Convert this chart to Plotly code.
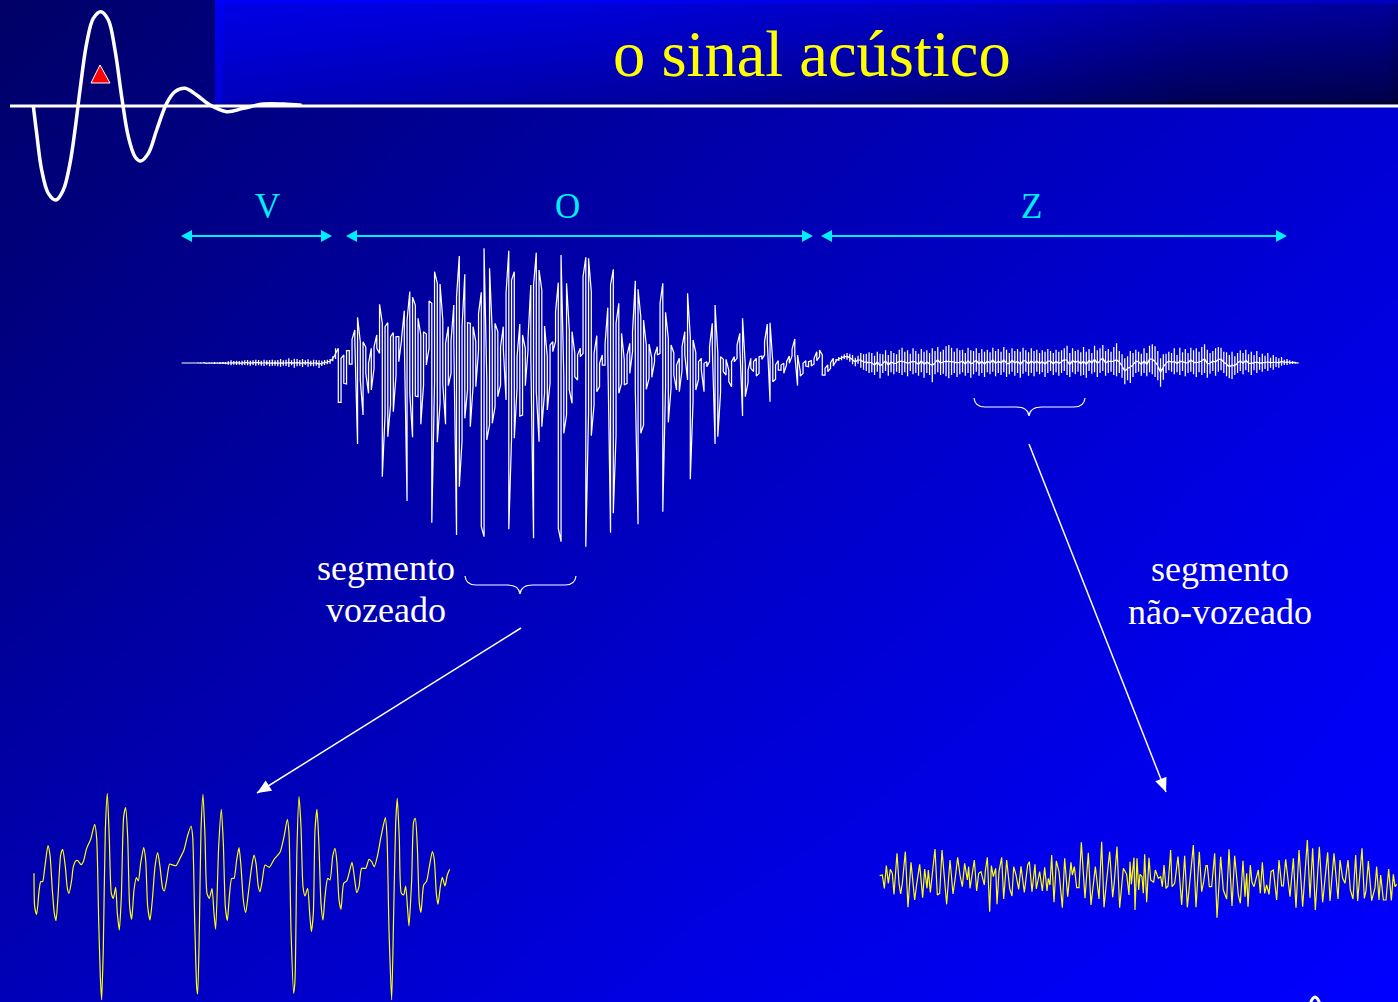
import math
import plotly.graph_objects as go

W, H = 1398, 1002

title_text = "o sinal acústico"
phoneme_labels = ["V", "O", "Z"]
voiced_lines = ["segmento", "vozeado"]
unvoiced_lines = ["segmento", "não-vozeado"]

# Gradient stops for the slide background and title band (blue level 0..1)
bg_x = [-350, 350, 1050, 1750]
bg_y = [-250, 250, 750, 1250]
bg_z = [[.40, .62, .80],
        [.55, .76, .93],
        [.72, .90, 1.0]]
band_x = [215, 225, 1000, 1388, 1398]
band_y = [0, 4, 100, 104]
band_z = [[1.0, .95, .80, .72],
          [.90, .75, .50, .40],
          [.78, .52, .18, .12]]

# Logo pulse
logo_t = [100,110,125,145,168,190,210,225,240,260,280,303,325,345,365,385,405,422,445,470,500,525,555,590,630,680,730,790,850,905]
logo_level = [318,400,510,580,600,570,490,390,270,130,55,35,60,150,290,410,470,483,460,390,310,275,265,285,315,335,325,312,312,316]

# Speech signal: upper and lower reach of each sample column
pre_hi = [0,0,0,0,1,1,2,2,2,1,2,2,3,2,3,3,3,5,8,6,7,6,7,8,9,7,8,10,9,7,10,8,9,10,8,9,12,8,10,14,8,13,12,9,12,8,11,7,10,9,8,7,9,10,12,20,44]
pre_lo = [0,0,0,0,-1,-1,-1,-2,-1,-2,-2,-2,-3,-2,-3,-3,-4,-5,-7,-5,-6,-5,-7,-6,-7,-8,-6,-8,-7,-8,-9,-7,-10,-9,-8,-10,-11,-8,-9,-12,-7,-14,-10,-8,-12,-6,-11,-9,-10,-8,-15,-9,-6,-4,-2,5,12]
vo_hi = [44,14,24,37,37,71,99,137,64,64,47,-1,44,49,84,176,119,109,121,79,91,79,79,74,157,129,214,197,174,134,84,94,87,186,179,274,239,237,129,59,109,67,174,199,321,109,266,121,119,109,64,149,212,344,-51,284,89,119,94,49,109,209,337,249,274,19,117,84,44,74,234,234,331,279,219,111,19,54,64,154,241,324,-41,239,99,94,29,24,44,259,317,
         314,214,29,82,-1,24,57,166,234,281,119,179,89,9,24,59,94,247,221,139,129,54,57,14,24,49,179,239,152,74,54,31,-6,14,49,94,209,79,69,31,4,14,-1,4,49,119,174,29,19,11,11,-21,4,19,54,89,134,-6,-21,14,4,14,19,21,64,117,121,2,-6,7,-6,-1,4,21,41,72,24,-26,-1,7,4,7,14,34,39,24,-16,-6,1,14]
vo_lo = [-118,-118,-61,-63,-3,-3,69,-243,-51,-156,-31,-91,-81,-16,44,29,-341,-156,-221,-126,-146,-36,4,69,69,-414,-91,-223,-99,-101,-184,-66,-6,44,-479,-56,-238,-121,-63,-184,-68,-31,64,-516,-371,-233,-166,-81,-191,-71,-71,39,-491,-521,-231,-186,-181,-131,-101,-66,44,-111,-499,-226,-226,-76,-159,-156,-68,39,19,-526,-86,-236,-191,-91,-141,-61,34,64,-496,-536,-211,-156,-81,-121,-41,-51,19,29,-551,
         -151,-218,-126,-86,-71,-6,-6,29,-509,-451,-216,-91,-61,-66,-61,-31,34,-81,-484,-211,-186,-79,-46,-43,4,24,29,-446,-71,-178,-76,-36,-81,-86,-21,24,-51,-349,-116,-81,-49,-21,-86,-11,4,49,-243,-221,-89,-26,-36,-56,-71,4,14,54,-159,-101,-58,-16,-26,-39,-31,11,24,64,-116,-56,-49,-21,-21,-31,-6,-1,21,24,-68,-39,-31,-9,-11,-9,-3,7,19,-36,-36,-26,-16,-9]
uv_hi = [12,18,22,26,30,28,24,16,22,30, 26,28,32,30,22,34,28,26,38,24, 36,30,26,40,46,34,38,28,44,36,
         28,42,34,38,30,44,36,48,34,40, 50,54,46,34,44,38,40,30,46,38, 36,44,30,42,34,40,32,46,36,42,
         34,48,40,30,44,36,42,34,46,38, 32,44,36,40,30,38,34,42,36,30, 40,34,38,44,52,30,44,36,40,32,
         48,34,42,30,52,38,44,54,36,42, 34,48,59,36,26,14,20,36,30,40, 34,28,44,30,52,56,50,36,14,26,
         28,34,30,44,24,46,32,42,30,46, 38,44,34,48,56,40,30,36,44,48, 46,34,32,24,34,20,30,38,30,40,
         26,34,24,36,18,28,22,30,16,24, 18,14,18,10,12,8,6,4,2]
uv_lo = [2,6,8,12,10,4,-4,-10,-2,-14, -20,-24,-30,-28,-36,-26,-46,-30,-24,-38, -28,-34,-26,-30,-36,-28,-40,-24,-34,-30,
         -38,-28,-44,-30,-36,-58,-34,-28,-36,-32, -40,-46,-36,-30,-42,-34,-28,-38,-30,-44, -34,-26,-38,-30,-42,-28,-34,-26,-40,-30,
         -36,-28,-42,-34,-26,-38,-30,-44,-32,-26, -38,-30,-40,-26,-34,-28,-42,-30,-24,-36, -28,-38,-30,-24,-36,-42,-28,-34,-26,-38,
         -36,-44,-24,-32,-28,-42,-30,-24,-38,-30, -26,-36,-40,-30,-44,-64,-52,-60,-42,-30, -26,-38,-30,-40,-28,-34,-42,-52,-71,-50,
         -30,-22,-26,-34,-28,-36,-24,-40,-30,-26, -34,-42,-28,-36,-30,-44,-32,-24,-38,-26, -22,-30,-40,-46,-48,-36,-30,-24,-34,-22,
         -28,-36,-22,-30,-20,-26,-18,-24,-14,-20, -12,-14,-8,-6,-6,-4,-3,-2,-1]

# Voiced segment, enlarged
voiced_t_a = [42,44,50,57,62,68,74,84,90,97,103,108,114,122,128,136,142,147,155,160,168,174,183,190,200,212,224,230,236,241,245,250,256,262,268,274,280,287,292,298,304,311,317,323,329,335,342,349,355,362,371,377,383,390,397,405,413,420,428,433,440,449,458,468,480,492,502,513,518,524,530,533,538,543,549,555,561,568,576,582,587,596,604,610,616,622,628,635,642,650,657]
voiced_level_a = [280,380,403,335,305,305,265,197,225,330,400,422,350,225,208,260,325,340,300,260,242,242,254,245,205,178,133,175,420,590,660,500,150,40,180,340,355,322,400,450,350,110,83,170,380,418,330,293,303,250,203,240,380,420,360,260,218,260,325,333,300,252,255,257,235,210,170,138,170,420,620,642,450,150,43,170,340,355,326,400,448,200,88,190,380,422,350,295,295,240,203]
voiced_t_b = [18,25,32,40,50,57,63,70,75,82,90,103,118,135,147,157,162,168,176,180,186,192,198,204,210,218,224,229,235,240,246,252,258,264,270,278,285,293,300,306,312,318,326,335,342,351,358,365,372,380,392,402,410,418,428,438,451,456,462,470,476,482,487,493,499,506,512,518,522,530,536,541,547,553,558,566,575,583,592,598,604,609,616,622,630,637,644]
voiced_level_b = [260,360,398,340,260,225,250,320,335,300,255,262,237,217,170,118,160,450,640,600,200,50,140,320,348,325,400,455,400,150,88,200,370,420,350,295,300,230,205,250,360,388,310,303,280,247,290,338,320,265,265,238,245,260,225,170,113,170,450,660,400,130,55,180,340,345,318,390,438,300,125,115,200,370,397,315,303,260,215,240,340,373,320,292,318,285,268]

# Unvoiced segment, enlarged
unvoiced_t_a = [14,22,28,34,40,46,52,57,66,72,77,82,91,99,108,119,125,134,143,149,156,160,166,174,180,187,194,201,207,215,225,234,240,248,255,262,269,277,281,285,298,305,311,318,328,331,337,344,349,355,362,366,372,380,386,395,404,411,416,423,431,438,448,458,463,471,480,484,494,502,509,516,520,525,530,537,544,552,562,569,578,588,592,598,605,612,619,630,640,648,661,672,680,687,695,704,713,718,726,734,745,755,762]
unvoiced_level_a = [152,150,190,122,175,133,145,208,85,175,207,175,80,247,112,225,178,118,218,132,190,135,202,130,72,210,205,75,155,238,105,207,165,97,150,185,115,165,125,190,105,198,145,140,180,138,97,260,122,155,130,238,140,97,222,105,190,213,125,150,193,124,202,120,110,200,118,192,140,198,127,198,160,180,90,232,108,140,248,100,215,112,150,125,188,188,52,220,83,240,125,222,50,247,165,80,217,170,65,248,130,148,210]
unvoiced_t_b = [0,4,12,15,21,26,30,36,40,44,50,57,62,71,76,85,92,97,102,108,114,122,126,134,144,155,164,172,178,190,198,208,215,221,228,232,238,245,254,261,272,280,290,297,306,314,325,331,339,345,350,354,361,366,372,385,391,397,404,410,417,423,430,440,447,455,460,467,480,490,498,507,518,532,540,548,556,568,578,593,600,606,612,624,630,638,645,654,661,669,677,683,696,703,708,715,725,735,740,747,752,760,768,776,784,790,795,800]
unvoiced_level_b = [110,178,98,255,100,195,148,155,205,88,232,98,165,172,135,160,155,185,120,190,183,75,185,175,95,240,92,247,178,60,247,80,200,170,122,122,185,185,85,278,95,195,222,73,243,92,210,235,107,215,145,245,120,172,185,135,205,112,205,180,208,140,135,225,105,183,183,103,215,100,248,75,245,45,218,70,255,65,232,82,228,145,85,222,105,160,175,105,195,222,90,228,70,220,198,108,227,188,125,225,150,225,225,132,226,148,185,178]

voiced_t = voiced_t_a + [t + 645 for t in voiced_t_b]
voiced_level = voiced_level_a + voiced_level_b
unvoiced_t = unvoiced_t_a + [t + 765 for t in unvoiced_t_b]
unvoiced_level = unvoiced_level_a + unvoiced_level_b

speech_hi = pre_hi + vo_hi + uv_hi
speech_lo = pre_lo + vo_lo + uv_lo
voiced_start, voiced_end = len(pre_hi), len(pre_hi) + len(vo_hi)
speech_x, speech_y = [], []
for i, (hi, lo) in enumerate(zip(speech_hi, speech_lo)):
    if voiced_start <= i < voiced_end:
        # large pulses: the trace sweeps up one column and down the next
        speech_x += [i, i]
        speech_y += [lo, hi] if i % 2 == 0 else [hi, lo]
    else:
        # noise: short ticks strung along the middle of the signal
        mid = (hi + lo) / 2
        speech_x += [i, i, i, i]
        speech_y += [mid, hi, lo, mid]


def axes(n, x_per_px, x0_px, y_per_px, y0_px):
    """Full-slide overlay axes: value v sits at pixel x0_px + v / x_per_px."""
    return {
        f"xaxis{n}": dict(range=[-x0_px * x_per_px, (W - x0_px) * x_per_px], domain=[0, 1], visible=False, fixedrange=True),
        f"yaxis{n}": dict(range=[(H - y0_px) * y_per_px, -y0_px * y_per_px], domain=[0, 1], visible=False, fixedrange=True),
    }


fig = go.Figure()
blue = [[0, "#000000"], [1, "#0000ff"]]
fig.add_trace(go.Heatmap(x=bg_x, y=bg_y, z=bg_z, zsmooth="best", colorscale=blue, zmin=0, zmax=1, showscale=False, hoverinfo="skip"))
fig.add_trace(go.Heatmap(x=band_x, y=band_y, z=band_z, zsmooth="best", colorscale=blue, zmin=0, zmax=1, showscale=False, hoverinfo="skip"))
fig.add_trace(go.Scatter(x=logo_t, y=logo_level, mode="lines", xaxis="x2", yaxis="y2", hoverinfo="skip",
                         line=dict(color="white", width=3.5, shape="spline", smoothing=1.0)))
fig.add_trace(go.Scatter(x=speech_x, y=speech_y, mode="lines", xaxis="x3", yaxis="y3", hoverinfo="skip",
                         line=dict(color="white", width=1.25)))
fig.add_trace(go.Scatter(x=voiced_t, y=voiced_level, mode="lines", xaxis="x4", yaxis="y4", hoverinfo="skip",
                         line=dict(color="#ffff00", width=1.2, shape="spline", smoothing=0.6)))
fig.add_trace(go.Scatter(x=unvoiced_t, y=unvoiced_level, mode="lines", xaxis="x5", yaxis="y5", hoverinfo="skip",
                         line=dict(color="#ffff00", width=1.2)))

layout_axes = dict(
    xaxis=dict(range=[0, W], domain=[0, 1], visible=False, fixedrange=True),
    yaxis=dict(range=[H, 0], domain=[0, 1], visible=False, fixedrange=True),
)
layout_axes.update(axes(2, 3, 0, 3, 0))            # logo: zoom readings
layout_axes.update(axes(3, 1 / 2.75, 181.55, -3, 363))  # speech
layout_axes.update(axes(4, 3, 20, 3, 780))         # voiced
layout_axes.update(axes(5, 3, 875, 3, 825))        # unvoiced

serif = "Liberation Serif"
def label(x, y, text, size, color):
    return dict(x=x, y=y, xref="x", yref="y", text=text, showarrow=False, xanchor="center", yanchor="middle",
                align="center", font=dict(family=serif, size=size, color=color))

cyan = "#00eeff"
annotations = [
    label(812, 54, title_text, 64.5, "#ffff00"),
    label(267, 206, phoneme_labels[0], 35, cyan),
    label(567, 206, phoneme_labels[1], 35, cyan),
    label(1031, 206, phoneme_labels[2], 35, cyan),
    label(386, 568, voiced_lines[0], 36, "white"),
    label(386, 610, voiced_lines[1], 36, "white"),
    label(1220, 569, unvoiced_lines[0], 36, "white"),
    label(1220, 612, unvoiced_lines[1], 36, "white"),
]


def brace(x0, xm, x1, ytop, yflat, ytip):
    return (f"M{x0},{ytop} Q{x0+1},{yflat} {x0+11},{yflat} L{xm-13},{yflat} Q{xm-1},{yflat} {xm},{ytip} "
            f"Q{xm+1},{yflat} {xm+13},{yflat} L{x1-11},{yflat} Q{x1-1},{yflat} {x1},{ytop}")


def head(xt, yt, xf, yf, length, half, color):
    """Solid triangular arrow head with its tip at (xt, yt), pointing away from (xf, yf)."""
    d = math.hypot(xt - xf, yt - yf)
    ux, uy = (xt - xf) / d, (yt - yf) / d
    bx, by = xt - ux * length, yt - uy * length
    return dict(type="path", xref="x", yref="y", layer="above", fillcolor=color, line=dict(width=0),
                path=f"M{xt:.1f},{yt:.1f} L{bx - uy * half:.1f},{by + ux * half:.1f} L{bx + uy * half:.1f},{by - ux * half:.1f} Z")


def shaft(x0, y0, x1, y1, color, width):
    return dict(type="line", x0=x0, y0=y0, x1=x1, y1=y1, xref="x", yref="y", layer="above", line=dict(color=color, width=width))


shapes = [
    shaft(10, 106, W, 106, "white", 3),
    dict(type="path", path="M100,65 L91,83 L110,83 Z", xref="x", yref="y", fillcolor="#ff0000", line=dict(color="white", width=1), layer="above"),
    dict(type="path", path=brace(465, 520, 576, 576, 585, 594), xref="x", yref="y", line=dict(color="white", width=1.2), layer="above"),
    dict(type="path", path=brace(974, 1029, 1085, 398, 407, 416), xref="x", yref="y", line=dict(color="white", width=1.2), layer="above"),
    dict(type="path", path="M1310,1004 Q1315,990 1320,1004", xref="x", yref="y", line=dict(color="white", width=3), layer="above"),
]
for x0, x1 in [(181, 332), (346, 813), (821, 1287)]:
    shapes += [shaft(x0 + 6, 236, x1 - 6, 236, cyan, 2),
               head(x0, 236, x1, 236, 11, 6, cyan),
               head(x1, 236, x0, 236, 11, 6, cyan)]
for x0, y0, x1, y1 in [(521, 628, 257, 793), (1029, 444, 1166, 792)]:
    shapes += [shaft(x0, y0, x1, y1, "white", 1.5),
               head(x1, y1, x0, y0, 14, 6, "white")]

fig.update_layout(width=W, height=H, margin=dict(l=0, r=0, t=0, b=0), paper_bgcolor="#000080", plot_bgcolor="rgba(0,0,0,0)",
                  showlegend=False, annotations=annotations, shapes=shapes, **layout_axes)

fig.write_html("out.html", config=dict(displayModeBar=False),
               post_script="document.body.style.margin='0';document.documentElement.style.overflow='hidden';")
